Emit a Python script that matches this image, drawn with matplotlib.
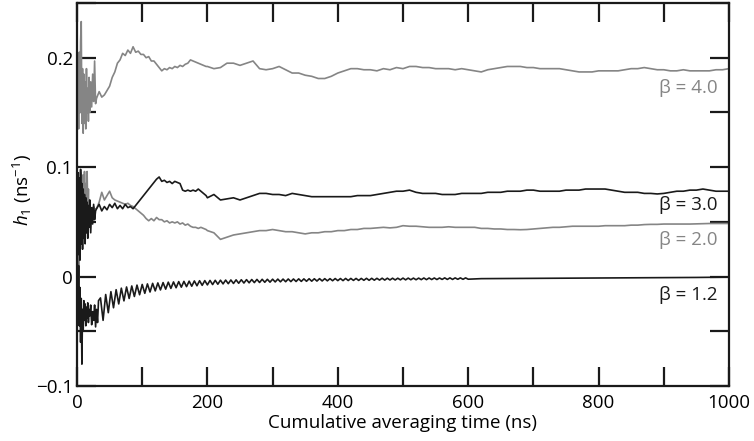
import numpy as np
import matplotlib
matplotlib.use("Agg")
import matplotlib.pyplot as plt
from matplotlib.ticker import MultipleLocator, FuncFormatter

plt.rcParams['font.family'] = ['Open Sans', 'DejaVu Sans']
plt.rcParams['mathtext.fontset'] = 'custom'
plt.rcParams['mathtext.rm'] = 'Open Sans'
plt.rcParams['mathtext.it'] = 'Open Sans:italic'

# ---------------- data ----------------
t_early = [0.5, 1.5, 2.5, 3.5, 4.5, 5.5, 6.5, 7.5, 8.5, 9.5, 10.5, 11.5, 12.5,
           13.5, 14.5, 15.5, 16.5, 17.5, 18.5, 19.5, 21, 22.5, 24, 25.5, 27, 28.5]
t_mid = np.arange(30, 199, 4)        # 30 ... 198 ns
t_late = np.arange(200, 1001, 10)    # 200 ... 1000 ns

# beta = 4.0
b40_early = [0.150, 0.190, 0.135, 0.205, 0.150, 0.215, 0.233, 0.140, 0.190, 0.131,
             0.185, 0.140, 0.178, 0.135, 0.190, 0.150, 0.172, 0.142, 0.182, 0.150,
             0.178, 0.155, 0.185, 0.160, 0.197, 0.158]
b40_mid = [0.163, 0.169, 0.164, 0.166, 0.170, 0.174, 0.182, 0.187, 0.195, 0.198,
           0.204, 0.202, 0.207, 0.204, 0.210, 0.205, 0.206, 0.203, 0.203, 0.200,
           0.201, 0.197, 0.197, 0.194, 0.191, 0.188, 0.190, 0.189, 0.191, 0.190,
           0.192, 0.191, 0.193, 0.192, 0.194, 0.195, 0.198, 0.197, 0.196, 0.195,
           0.194, 0.193, 0.192]
b40_late = [0.192, 0.190, 0.191, 0.195, 0.195, 0.193, 0.195, 0.197, 0.190, 0.189,
            0.190, 0.192, 0.189, 0.186, 0.186, 0.184, 0.183, 0.181, 0.181, 0.183,
            0.186, 0.188, 0.190, 0.190, 0.189, 0.189, 0.188, 0.190, 0.189, 0.191,
            0.190, 0.192, 0.192, 0.191, 0.191, 0.190, 0.190, 0.190, 0.189, 0.190,
            0.189, 0.188, 0.187, 0.189, 0.190, 0.191, 0.192, 0.192, 0.192, 0.191,
            0.191, 0.190, 0.190, 0.190, 0.190, 0.189, 0.188, 0.187, 0.187, 0.187,
            0.188, 0.188, 0.188, 0.188, 0.189, 0.190, 0.190, 0.191, 0.190, 0.189,
            0.189, 0.188, 0.188, 0.189, 0.188, 0.188, 0.188, 0.188, 0.189, 0.189,
            0.190]

# beta = 3.0
b30_early = [0.060, 0.095, 0.020, 0.090, 0.015, 0.098, 0.030, 0.085, 0.025, 0.080,
             0.035, 0.075, 0.030, 0.072, 0.040, 0.068, 0.035, 0.065, 0.045, 0.070,
             0.040, 0.063, 0.048, 0.066, 0.052, 0.060]
b30_mid = [0.062, 0.066, 0.060, 0.064, 0.061, 0.066, 0.063, 0.067, 0.062, 0.065,
           0.062, 0.066, 0.063, 0.064, 0.062, 0.065, 0.068, 0.071, 0.074, 0.077,
           0.080, 0.083, 0.086, 0.089, 0.091, 0.087, 0.088, 0.086, 0.087, 0.085,
           0.087, 0.086, 0.085, 0.079, 0.078, 0.079, 0.078, 0.079, 0.078, 0.080,
           0.078, 0.076, 0.074]
b30_late = [0.072, 0.075, 0.070, 0.071, 0.072, 0.070, 0.072, 0.074, 0.076, 0.076,
            0.075, 0.075, 0.074, 0.076, 0.075, 0.074, 0.073, 0.073, 0.073, 0.073,
            0.073, 0.073, 0.073, 0.074, 0.074, 0.074, 0.075, 0.076, 0.077, 0.078,
            0.078, 0.079, 0.077, 0.076, 0.076, 0.076, 0.075, 0.075, 0.075, 0.076,
            0.076, 0.076, 0.076, 0.077, 0.077, 0.077, 0.078, 0.078, 0.078, 0.079,
            0.079, 0.078, 0.078, 0.078, 0.078, 0.079, 0.079, 0.079, 0.080, 0.080,
            0.080, 0.080, 0.079, 0.078, 0.077, 0.077, 0.077, 0.076, 0.076, 0.0755,
            0.076, 0.077, 0.078, 0.078, 0.079, 0.079, 0.080, 0.079, 0.078, 0.078,
            0.078]

# beta = 2.0
b20_early = [-0.030, 0.060, -0.010, 0.075, 0.020, 0.095, 0.050, 0.090, 0.060, 0.093,
             0.055, 0.096, 0.065, 0.085, 0.050, 0.096, 0.060, 0.080, 0.045, 0.070,
             0.055, 0.062, 0.058, 0.064, 0.060, 0.062]
b20_mid = [0.062, 0.068, 0.077, 0.070, 0.074, 0.078, 0.072, 0.070, 0.069, 0.068,
           0.067, 0.066, 0.067, 0.065, 0.064, 0.062, 0.060, 0.058, 0.056, 0.053,
           0.051, 0.053, 0.051, 0.054, 0.052, 0.052, 0.050, 0.051, 0.049, 0.050,
           0.049, 0.050, 0.048, 0.049, 0.047, 0.048, 0.046, 0.045, 0.045, 0.044,
           0.045, 0.044, 0.043]
b20_late = [0.042, 0.040, 0.034, 0.036, 0.038, 0.039, 0.040, 0.041, 0.042, 0.042,
            0.043, 0.042, 0.041, 0.041, 0.040, 0.039, 0.040, 0.040, 0.041, 0.041,
            0.042, 0.042, 0.043, 0.043, 0.044, 0.044, 0.0445, 0.045, 0.0445, 0.045,
            0.0465, 0.046, 0.046, 0.0455, 0.045, 0.045, 0.045, 0.0455, 0.045, 0.045,
            0.045, 0.045, 0.044, 0.044, 0.0435, 0.0435, 0.043, 0.043, 0.0428, 0.043,
            0.0435, 0.044, 0.0445, 0.045, 0.045, 0.0455, 0.046, 0.046, 0.046, 0.046,
            0.046, 0.0465, 0.0465, 0.0465, 0.0465, 0.047, 0.047, 0.0475, 0.0477, 0.0477,
            0.048, 0.048, 0.048, 0.048, 0.048, 0.0482, 0.0485, 0.0485, 0.0485, 0.0485,
            0.0485]

# beta = 1.2 (early noise, then scallop cusps / troughs, then smooth tail)
b12_t_early = [0.5, 1.5, 2.5, 3.5, 4.5, 5.5, 6.5, 7.5, 8.5, 9.5, 10.5, 11.5, 12.5,
               13.5, 14.5, 15.5, 16.5, 17.5, 18.5, 19.5, 21, 22.5, 24, 25.5, 27,
               28.5, 30, 31.5, 33]
b12_early = [0.020, -0.030, 0.010, -0.045, -0.010, -0.060, -0.020, -0.080, -0.030,
             -0.050, -0.022, -0.040, -0.025, -0.045, -0.028, -0.038, -0.024, -0.042,
             -0.030, -0.036, -0.026, -0.044, -0.032, -0.040, -0.026, -0.046, -0.030,
             -0.042, -0.022]
b12_cusp_t = np.arange(36, 597, 8)
b12_cusp = [-0.0195, -0.0164, -0.0138, -0.0120, -0.0106, -0.0095, -0.0086, -0.0078,
            -0.0072, -0.0067, -0.0062, -0.0058, -0.0055, -0.0051, -0.0049, -0.0046,
            -0.0044, -0.0042, -0.0040, -0.0038, -0.0037, -0.0035, -0.0034, -0.0033,
            -0.0032, -0.0031, -0.0030, -0.0029, -0.0028, -0.0027, -0.0026, -0.0025,
            -0.0025, -0.0024, -0.0023, -0.0023, -0.0022, -0.0022, -0.0021, -0.0021,
            -0.0020, -0.0020, -0.0019, -0.0019, -0.0019, -0.0018, -0.0018, -0.0017,
            -0.0017, -0.0017, -0.0017, -0.0016, -0.0016, -0.0016, -0.0015, -0.0015,
            -0.0015, -0.0015, -0.0014, -0.0014, -0.0014, -0.0014, -0.0013, -0.0013,
            -0.0013, -0.0013, -0.0012, -0.0012, -0.0012, -0.0012, -0.0012]
b12_trough = [-0.0400, -0.0330, -0.0285, -0.0250, -0.0222, -0.0200, -0.0182, -0.0166,
              -0.0153, -0.0141, -0.0131, -0.0122, -0.0115, -0.0108, -0.0102, -0.0097,
              -0.0092, -0.0088, -0.0084, -0.0080, -0.0076, -0.0073, -0.0070, -0.0067,
              -0.0065, -0.0063, -0.0061, -0.0059, -0.0057, -0.0055, -0.0054, -0.0052,
              -0.0051, -0.0049, -0.0048, -0.0047, -0.0046, -0.0045, -0.0044, -0.0043,
              -0.0042, -0.0041, -0.0040, -0.0039, -0.0038, -0.0037, -0.0037, -0.0036,
              -0.0035, -0.0035, -0.0034, -0.0034, -0.0033, -0.0032, -0.0032, -0.0031,
              -0.0031, -0.0030, -0.0030, -0.0029, -0.0029, -0.0028, -0.0028, -0.0027,
              -0.0027, -0.0026, -0.0026, -0.0026, -0.0025, -0.0025, -0.0024]
b12_t_tail = [620, 650, 700, 750, 800, 850, 900, 950, 1000]
b12_tail = [-0.0019, -0.0018, -0.0016, -0.0015, -0.0013, -0.0012, -0.0010, -0.0008, -0.0005]

labels = ["β = 4.0", "β = 3.0", "β = 2.0", "β = 1.2"]
label_y = [0.172, 0.0657, 0.0331, -0.0164]

GRAY = "#858585"
BLACK = "#1a1a1a"

# ---------------- assemble series ----------------
t_std = np.concatenate([t_early, t_mid, t_late])
h40 = np.concatenate([b40_early, b40_mid, b40_late])
h30 = np.concatenate([b30_early, b30_mid, b30_late])
h20 = np.concatenate([b20_early, b20_mid, b20_late])

osc_t = np.empty(2 * len(b12_cusp_t))
osc_t[0::2] = b12_cusp_t
osc_t[1::2] = b12_cusp_t + 4
osc_v = np.empty(2 * len(b12_cusp))
osc_v[0::2] = b12_cusp
osc_v[1::2] = b12_trough
t12 = np.concatenate([b12_t_early, osc_t, b12_t_tail])
h12 = np.concatenate([b12_early, osc_v, b12_tail])

# ---------------- figure ----------------
fig = plt.figure(figsize=(7.54, 4.41), dpi=100)
ax = fig.add_axes([77 / 754, 55 / 441, (729 - 77) / 754, (386 - 3) / 441])

lw = 1.2
ax.plot(t_std, h40, color=GRAY, lw=lw)
ax.plot(t_std, h20, color=GRAY, lw=lw)
ax.plot(t_std, h30, color=BLACK, lw=lw)
ax.plot(t12, h12, color=BLACK, lw=lw)

colors = [GRAY, BLACK, GRAY, BLACK]
for lab, y, c in zip(labels, label_y, colors):
    ax.text(982, y, lab, color=c, fontsize=13.5, ha='right', va='center')

ax.set_xlim(0, 1000)
ax.set_ylim(-0.1, 0.25)
ax.xaxis.set_major_locator(MultipleLocator(200))
ax.xaxis.set_minor_locator(MultipleLocator(100))
ax.yaxis.set_major_locator(MultipleLocator(0.1))
ax.yaxis.set_minor_locator(MultipleLocator(0.05))


def yfmt(v, pos):
    if abs(v) < 1e-9:
        return "0"
    return f"{v:.1f}".replace("-", "\u2212")


ax.yaxis.set_major_formatter(FuncFormatter(yfmt))
ax.xaxis.set_major_formatter(FuncFormatter(lambda v, p: f"{v:.0f}"))
ax.tick_params(which='both', direction='in', length=14, width=1.6,
               top=True, right=True, labelsize=13.5, color=BLACK)
ax.tick_params(axis='x', pad=6)
ax.tick_params(axis='y', pad=3)
for s in ax.spines.values():
    s.set_linewidth(1.6)
    s.set_color(BLACK)

ax.set_xlabel("Cumulative averaging time (ns)", fontsize=13.5, labelpad=1)
fig.text(22 / 754, 1 - 190 / 441, r"$h_1$ (ns$^{\mathregular{-1}}$)", rotation=90,
         fontsize=13.5, ha='center', va='center')

fig.savefig("out.png", dpi=100)
